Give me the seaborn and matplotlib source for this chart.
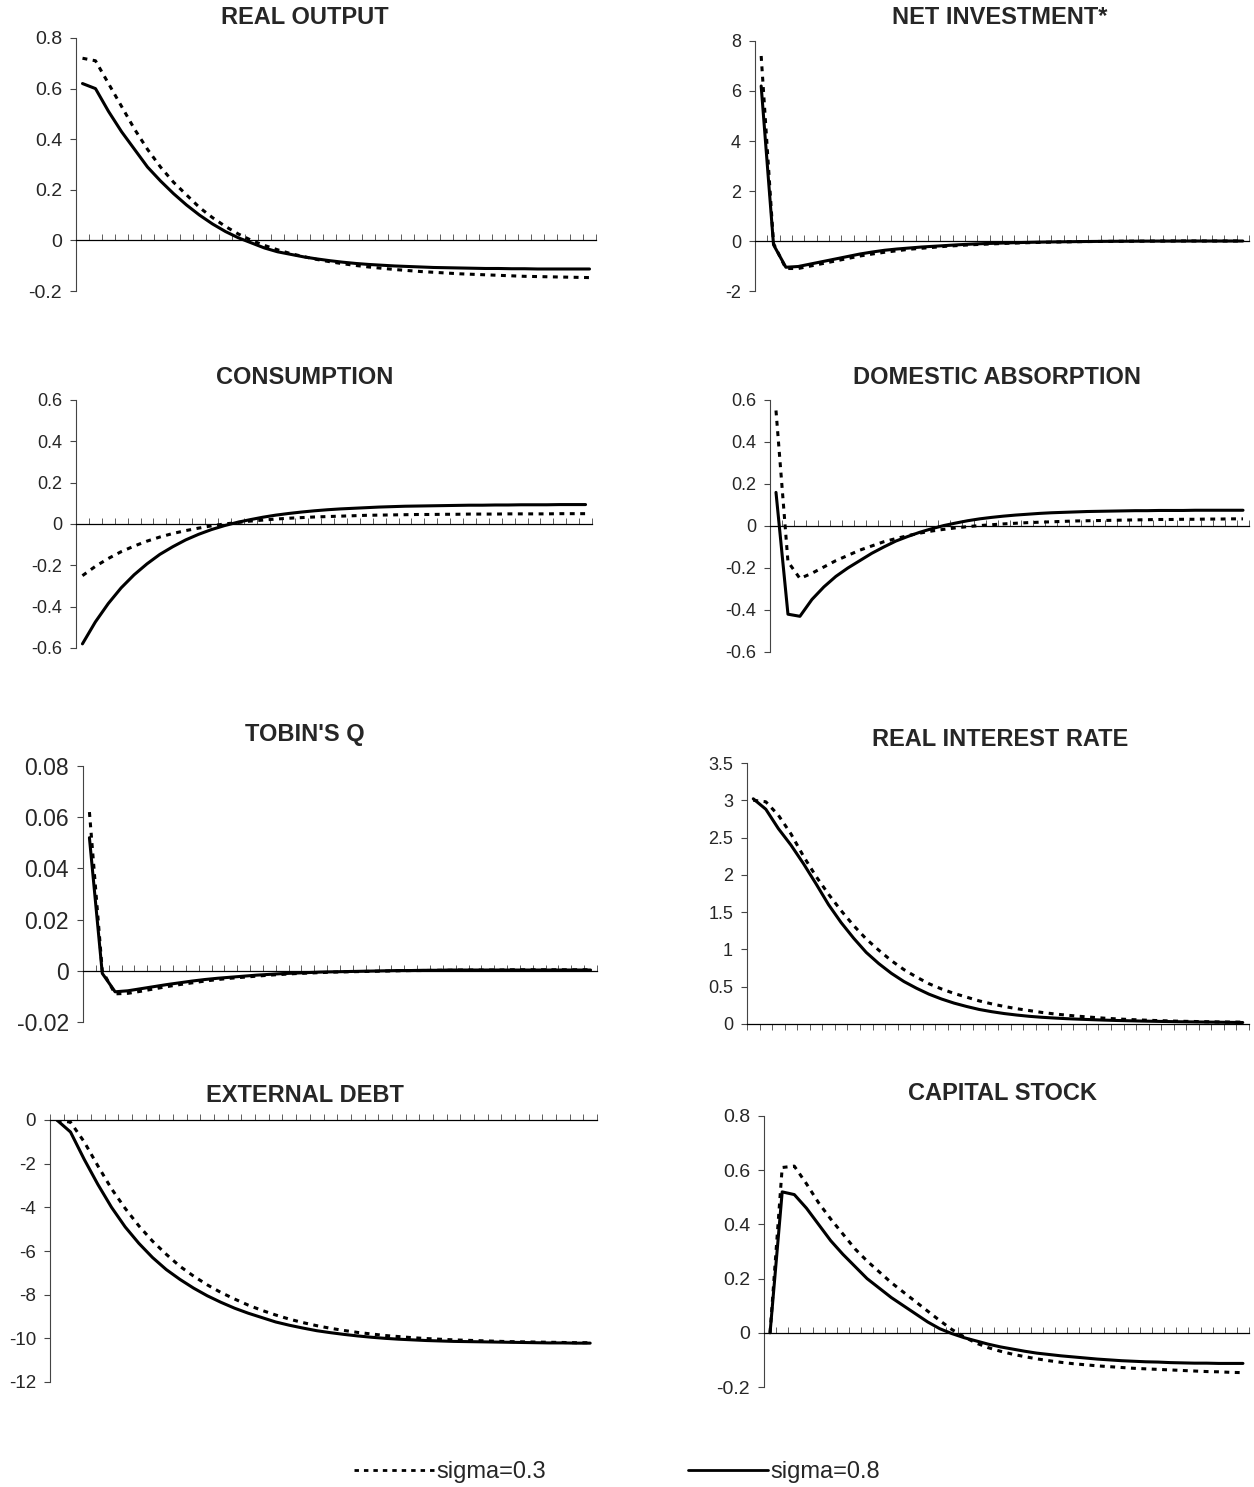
import numpy as np
import pandas as pd
import matplotlib
matplotlib.use("Agg")
import matplotlib.pyplot as plt
import seaborn as sns
from matplotlib.lines import Line2D

periods = list(range(1, 41))
series_labels = ["sigma=0.3", "sigma=0.8"]

real_output_s03 = [0.72, 0.71, 0.62, 0.53, 0.44, 0.36, 0.29, 0.23, 0.18, 0.13,
                   0.09, 0.055, 0.025, 0.0, -0.02, -0.037, -0.052, -0.064, -0.075, -0.084,
                   -0.092, -0.099, -0.105, -0.11, -0.115, -0.119, -0.123, -0.126, -0.129, -0.132,
                   -0.134, -0.136, -0.138, -0.140, -0.142, -0.143, -0.144, -0.145, -0.146, -0.147]
real_output_s08 = [0.62, 0.60, 0.51, 0.43, 0.36, 0.29, 0.235, 0.185, 0.14, 0.10,
                   0.065, 0.035, 0.01, -0.01, -0.03, -0.045, -0.055, -0.065, -0.073, -0.08,
                   -0.086, -0.091, -0.095, -0.098, -0.101, -0.103, -0.105, -0.107, -0.108, -0.109,
                   -0.110, -0.111, -0.111, -0.112, -0.112, -0.113, -0.113, -0.113, -0.113, -0.113]

net_inv_s03 = [7.4, -0.1, -1.1, -1.1, -1.0, -0.9, -0.8, -0.7, -0.6, -0.52,
               -0.45, -0.39, -0.33, -0.29, -0.25, -0.21, -0.18, -0.15, -0.13, -0.11,
               -0.09, -0.075, -0.062, -0.05, -0.04, -0.032, -0.025, -0.02, -0.015, -0.011,
               -0.008, -0.005, -0.003, -0.001, 0.0, 0.0, 0.0, 0.0, 0.0, 0.0]
net_inv_s08 = [6.2, -0.15, -1.05, -1.02, -0.92, -0.82, -0.72, -0.62, -0.52, -0.44,
               -0.37, -0.32, -0.28, -0.24, -0.21, -0.18, -0.15, -0.125, -0.105, -0.09,
               -0.075, -0.062, -0.05, -0.042, -0.035, -0.028, -0.022, -0.017, -0.013, -0.01,
               -0.007, -0.005, -0.003, -0.002, -0.001, 0.0, 0.0, 0.0, 0.0, 0.0]

consumption_s03 = [-0.25, -0.205, -0.167, -0.134, -0.107, -0.083, -0.063, -0.046, -0.032, -0.020,
                   -0.009, 0.0, 0.007, 0.014, 0.019, 0.024, 0.028, 0.031, 0.034, 0.036,
                   0.038, 0.040, 0.042, 0.043, 0.044, 0.045, 0.046, 0.046, 0.047, 0.047,
                   0.048, 0.048, 0.048, 0.049, 0.049, 0.049, 0.049, 0.05, 0.05, 0.05]
consumption_s08 = [-0.58, -0.474, -0.385, -0.309, -0.246, -0.193, -0.147, -0.11, -0.077, -0.05,
                   -0.027, -0.008, 0.008, 0.021, 0.033, 0.043, 0.051, 0.058, 0.064, 0.069,
                   0.073, 0.076, 0.079, 0.082, 0.084, 0.086, 0.087, 0.088, 0.089, 0.090,
                   0.091, 0.091, 0.092, 0.092, 0.093, 0.093, 0.093, 0.094, 0.094, 0.094]

absorption_s03 = [0.55, -0.17, -0.25, -0.225, -0.195, -0.165, -0.14, -0.115, -0.095, -0.075,
                  -0.06, -0.046, -0.034, -0.024, -0.016, -0.009, -0.003, 0.002, 0.006, 0.01,
                  0.013, 0.016, 0.018, 0.02, 0.022, 0.024, 0.025, 0.026, 0.027, 0.028,
                  0.029, 0.03, 0.031, 0.031, 0.032, 0.032, 0.033, 0.033, 0.034, 0.034]
absorption_s08 = [0.16, -0.42, -0.43, -0.35, -0.29, -0.24, -0.2, -0.165, -0.13, -0.1,
                  -0.072, -0.05, -0.03, -0.013, 0.002, 0.014, 0.025, 0.034, 0.041, 0.047,
                  0.052, 0.056, 0.06, 0.063, 0.065, 0.067, 0.069, 0.07, 0.071, 0.072,
                  0.073, 0.073, 0.074, 0.074, 0.074, 0.075, 0.075, 0.075, 0.075, 0.075]

tobin_s03 = [0.062, 0.0, -0.009, -0.0088, -0.008, -0.0071, -0.0062, -0.0054, -0.0047, -0.004,
             -0.0034, -0.0029, -0.0025, -0.0021, -0.0017, -0.0014, -0.0011, -0.0009, -0.0007, -0.0005,
             -0.0004, -0.0003, -0.0002, -0.0001, 0.0, 0.0001, 0.0001, 0.0002, 0.0002, 0.0003,
             0.0003, 0.0003, 0.0003, 0.0004, 0.0004, 0.0004, 0.0004, 0.0004, 0.0004, 0.0004]
tobin_s08 = [0.052, -0.001, -0.0082, -0.0078, -0.007, -0.0062, -0.0054, -0.0047, -0.004, -0.0034,
             -0.0029, -0.0025, -0.0021, -0.0017, -0.0014, -0.0011, -0.0009, -0.0007, -0.0005, -0.0004,
             -0.0003, -0.0002, -0.0001, 0.0, 0.0001, 0.0001, 0.0002, 0.0002, 0.0003, 0.0003,
             0.0003, 0.0003, 0.0003, 0.0003, 0.0003, 0.0003, 0.0003, 0.0003, 0.0003, 0.0003]

interest_s03 = [3.0, 2.98, 2.8, 2.55, 2.25, 1.98, 1.74, 1.52, 1.32, 1.14,
                0.99, 0.85, 0.73, 0.63, 0.54, 0.47, 0.41, 0.36, 0.31, 0.27,
                0.235, 0.205, 0.18, 0.155, 0.135, 0.118, 0.103, 0.09, 0.078, 0.068,
                0.06, 0.053, 0.047, 0.042, 0.037, 0.034, 0.031, 0.028, 0.026, 0.025]
interest_s08 = [3.02, 2.88, 2.62, 2.4, 2.15, 1.88, 1.6, 1.36, 1.15, 0.96,
                0.81, 0.68, 0.57, 0.48, 0.40, 0.335, 0.28, 0.235, 0.195, 0.165,
                0.14, 0.12, 0.103, 0.09, 0.08, 0.071, 0.064, 0.058, 0.052, 0.047,
                0.043, 0.039, 0.036, 0.033, 0.03, 0.028, 0.026, 0.024, 0.022, 0.02]

ext_debt_s03 = [0.0, -0.1, -1.0, -2.1, -3.15, -4.05, -4.85, -5.55, -6.15, -6.7,
                -7.15, -7.55, -7.9, -8.2, -8.48, -8.72, -8.93, -9.12, -9.28, -9.42,
                -9.54, -9.64, -9.73, -9.8, -9.87, -9.92, -9.97, -10.01, -10.04, -10.07,
                -10.09, -10.11, -10.13, -10.15, -10.16, -10.17, -10.18, -10.19, -10.2, -10.2]
ext_debt_s08 = [0.0, -0.55, -1.8, -2.95, -4.0, -4.9, -5.65, -6.3, -6.85, -7.3,
                -7.7, -8.05, -8.35, -8.62, -8.85, -9.05, -9.25, -9.4, -9.53, -9.65,
                -9.74, -9.82, -9.89, -9.95, -10.0, -10.04, -10.07, -10.1, -10.12, -10.14,
                -10.15, -10.16, -10.17, -10.18, -10.19, -10.2, -10.21, -10.21, -10.22, -10.22]

capital_s03 = [0.0, 0.61, 0.615, 0.55, 0.48, 0.42, 0.365, 0.31, 0.265, 0.225,
               0.185, 0.15, 0.115, 0.08, 0.045, 0.012, -0.015, -0.038, -0.055, -0.068,
               -0.079, -0.088, -0.096, -0.103, -0.109, -0.114, -0.118, -0.122, -0.125, -0.128,
               -0.131, -0.133, -0.135, -0.137, -0.139, -0.141, -0.143, -0.144, -0.146, -0.147]
capital_s08 = [0.0, 0.52, 0.51, 0.46, 0.40, 0.34, 0.29, 0.245, 0.2, 0.165,
               0.13, 0.1, 0.07, 0.04, 0.015, -0.003, -0.018, -0.03, -0.042, -0.052,
               -0.06, -0.068, -0.075, -0.08, -0.085, -0.089, -0.093, -0.097, -0.1, -0.103,
               -0.105, -0.107, -0.108, -0.11, -0.111, -0.112, -0.112, -0.113, -0.113, -0.113]

titles = ["REAL OUTPUT", "NET INVESTMENT*", "CONSUMPTION", "DOMESTIC ABSORPTION",
          "TOBIN'S Q", "REAL INTEREST RATE", "EXTERNAL DEBT", "CAPITAL STOCK"]
yticks_list = [[0.8, 0.6, 0.4, 0.2, 0, -0.2],
               [8, 6, 4, 2, 0, -2],
               [0.6, 0.4, 0.2, 0, -0.2, -0.4, -0.6],
               [0.6, 0.4, 0.2, 0, -0.2, -0.4, -0.6],
               [0.08, 0.06, 0.04, 0.02, 0, -0.02],
               [3.5, 3, 2.5, 2, 1.5, 1, 0.5, 0],
               [0, -2, -4, -6, -8, -10, -12],
               [0.8, 0.6, 0.4, 0.2, 0, -0.2]]
ytick_labels = [["0.8", "0.6", "0.4", "0.2", "0", "-0.2"],
                ["8", "6", "4", "2", "0", "-2"],
                ["0.6", "0.4", "0.2", "0", "-0.2", "-0.4", "-0.6"],
                ["0.6", "0.4", "0.2", "0", "-0.2", "-0.4", "-0.6"],
                ["0.08", "0.06", "0.04", "0.02", "0", "-0.02"],
                ["3.5", "3", "2.5", "2", "1.5", "1", "0.5", "0"],
                ["0", "-2", "-4", "-6", "-8", "-10", "-12"],
                ["0.8", "0.6", "0.4", "0.2", "0", "-0.2"]]
data_s03 = [real_output_s03, net_inv_s03, consumption_s03, absorption_s03,
            tobin_s03, interest_s03, ext_debt_s03, capital_s03]
data_s08 = [real_output_s08, net_inv_s08, consumption_s08, absorption_s08,
            tobin_s08, interest_s08, ext_debt_s08, capital_s08]

# layout in pixels: (left, right, top, bottom), title center (x, y), label size, x-tick direction
boxes = [(76, 596, 38, 291), (755, 1249, 41, 291),
         (76, 592, 400, 648), (770, 1249, 400, 652),
         (83, 597, 766, 1022), (747, 1249, 763, 1024),
         (50, 597, 1120, 1382), (764, 1249, 1116, 1387)]
title_pos = [(305, 18), (1000, 18), (305, 378), (997, 378),
             (305, 735), (1000, 740), (305, 1095), (1003, 1093)]
label_sizes = [14, 13, 13, 13, 16.5, 13, 13.5, 14]
tick_dirs = ["in", "in", "in", "in", "in", "out", "in", "in"]

sns.set_style("white")
plt.rcParams["font.family"] = ["Liberation Sans", "DejaVu Sans"]

W, H = 1254, 1487
fig = plt.figure(figsize=(W / 100, H / 100), dpi=100)

dash_map = {"sigma=0.3": (1.6, 1.8), "sigma=0.8": ""}

for k in range(8):
    l, r, t, b = boxes[k]
    ax = fig.add_axes([l / W, 1 - b / H, (r - l) / W, (b - t) / H])
    df = pd.DataFrame({
        "period": periods + periods,
        "value": data_s03[k] + data_s08[k],
        "sigma": [series_labels[0]] * len(periods) + [series_labels[1]] * len(periods),
    })
    sns.lineplot(data=df, x="period", y="value", style="sigma", dashes=dash_map,
                 color="black", linewidth=2.2, legend=False, ax=ax)
    yt = yticks_list[k]
    ax.set_xlim(0.5, 40.5)
    ax.set_ylim(min(yt), max(yt))
    ax.set_yticks(yt)
    ax.set_yticklabels(ytick_labels[k])
    ax.set_xticks(np.arange(0.5, 41.0, 1.0))
    ax.set_xlabel("")
    ax.set_ylabel("")
    for s in ["top", "right"]:
        ax.spines[s].set_visible(False)
    ax.spines["left"].set_position(("data", 0.5))
    ax.spines["left"].set_color("#444444")
    ax.spines["left"].set_linewidth(0.8)
    ax.spines["bottom"].set_position(("data", 0))
    ax.spines["bottom"].set_color("black")
    ax.spines["bottom"].set_linewidth(0.9)
    ax.tick_params(axis="y", direction="out", length=4, width=0.8, color="#444444",
                   labelsize=label_sizes[k], pad=6, left=True)
    ax.tick_params(axis="x", direction=tick_dirs[k], length=4, width=0.6, color="#444444",
                   labelbottom=False, bottom=True)
    ax.patch.set_alpha(0)
    tx, ty = title_pos[k]
    fig.text(tx / W, 1 - ty / H, titles[k], ha="center", va="center",
             fontsize=17, fontweight="bold")

handles = [Line2D([], [], color="black", linewidth=2.0, dashes=(1.6, 1.8)),
           Line2D([], [], color="black", linewidth=2.0)]
fig.legend(handles, series_labels, loc="center", bbox_to_anchor=(617 / W, 1 - 1472 / H),
           ncol=2, frameon=False, fontsize=17, handlelength=3.4, handletextpad=0.1,
           columnspacing=6.0)

fig.savefig("out.png", dpi=100)
